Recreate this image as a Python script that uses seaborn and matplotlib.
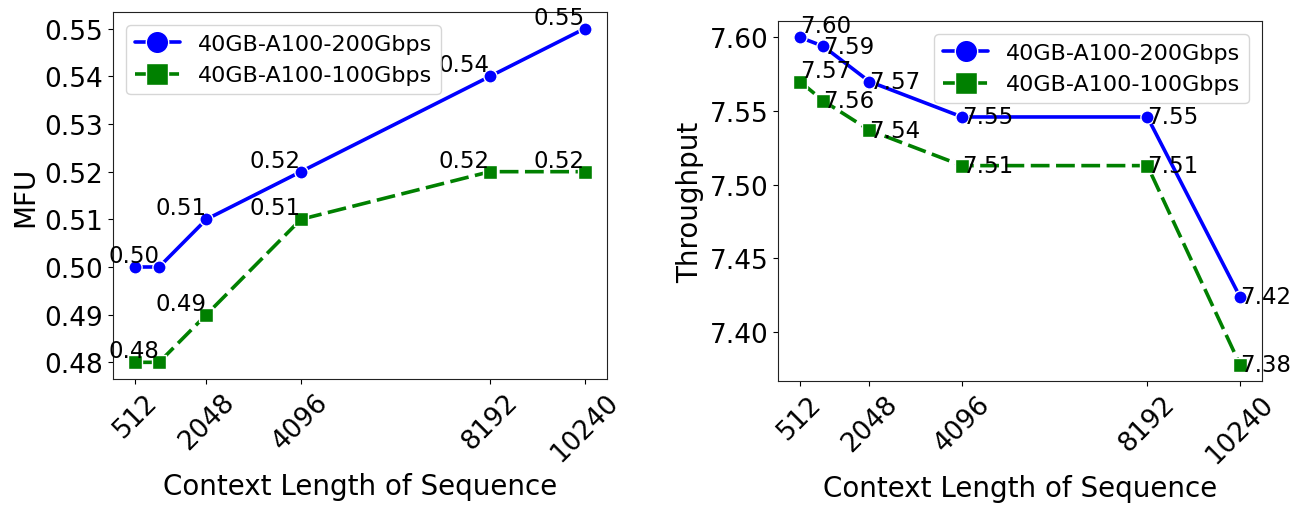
import matplotlib
matplotlib.use("Agg")
import matplotlib.pyplot as plt
import seaborn as sns
import pandas as pd

# ---- data ----
context_len = [512, 1024, 2048, 4096, 8192, 10240]
xtick_vals = [512, 2048, 4096, 8192, 10240]
series_names = ["40GB-A100-200Gbps", "40GB-A100-100Gbps"]
mfu_200 = [0.50, 0.50, 0.51, 0.52, 0.54, 0.55]
mfu_100 = [0.48, 0.48, 0.49, 0.51, 0.52, 0.52]
thr_200 = [7.600, 7.594, 7.570, 7.546, 7.546, 7.424]
thr_100 = [7.570, 7.557, 7.537, 7.513, 7.513, 7.378]

sns.set_style("ticks")
plt.rcParams["font.family"] = ["DejaVu Sans"]
plt.rcParams["text.color"] = "black"
plt.rcParams["axes.labelcolor"] = "black"
plt.rcParams["xtick.color"] = "black"
plt.rcParams["ytick.color"] = "black"
plt.rcParams["axes.edgecolor"] = "#222222"

colors = {series_names[0]: "blue", series_names[1]: "green"}
markers = {series_names[0]: "o", series_names[1]: "s"}
dashes = {series_names[0]: "", series_names[1]: (5.2, 1.8)}

fig = plt.figure(figsize=(13.02, 5.06), dpi=100)
ax1 = fig.add_axes([113 / 1302, 1 - 380 / 506, 494 / 1302, 367 / 506])
ax2 = fig.add_axes([778 / 1302, 1 - 382 / 506, 484 / 1302, 360 / 506])


def make_df(a, b):
    return pd.DataFrame({
        "x": context_len * 2,
        "y": list(a) + list(b),
        "series": [series_names[0]] * len(a) + [series_names[1]] * len(b),
    })


def draw(ax, a, b):
    df = make_df(a, b)
    sns.lineplot(data=df, x="x", y="y", hue="series", style="series",
                 palette=colors, markers=markers, dashes=dashes,
                 hue_order=series_names, style_order=series_names,
                 linewidth=2.6, markersize=9.5, markeredgecolor="white",
                 markeredgewidth=1, ax=ax)
    ax.set_xticks(xtick_vals)
    ax.set_xticklabels([str(v) for v in xtick_vals], rotation=45)
    ax.tick_params(axis="both", labelsize=19, colors="black")
    ax.set_xlabel("Context Length of Sequence", fontsize=20)


# left panel: MFU
draw(ax1, mfu_200, mfu_100)
ax1.set_ylabel("MFU", fontsize=20)
yt1 = [0.48, 0.49, 0.50, 0.51, 0.52, 0.53, 0.54, 0.55]
ax1.set_yticks(yt1)
ax1.set_yticklabels([f"{v:.2f}" for v in yt1])
for vals in (mfu_200, mfu_100):
    for i, (x, y) in enumerate(zip(context_len, vals)):
        if i == 0:
            continue
        ax1.text(x, y, f"{y:.2f}", ha="right", va="bottom", fontsize=16.5)
h, l = ax1.get_legend_handles_labels()
ax1.legend(h, l, loc="upper left", fontsize=16, markerscale=1.7,
           frameon=True, borderaxespad=0.6)

# right panel: Throughput
draw(ax2, thr_200, thr_100)
ax2.set_ylabel("Throughput", fontsize=20)
yt2 = [7.40, 7.45, 7.50, 7.55, 7.60]
ax2.set_yticks(yt2)
ax2.set_yticklabels([f"{v:.2f}" for v in yt2])
for vals in (thr_200, thr_100):
    for i, (x, y) in enumerate(zip(context_len, vals)):
        ax2.text(x, y, f"{y:.2f}", ha="left",
                 va="bottom" if i == 0 else "center", fontsize=16.5)
h, l = ax2.get_legend_handles_labels()
ax2.legend(h, l, loc="upper right", fontsize=16, markerscale=1.7,
           frameon=True, borderaxespad=0.6)

fig.savefig("out.png", dpi=100)
